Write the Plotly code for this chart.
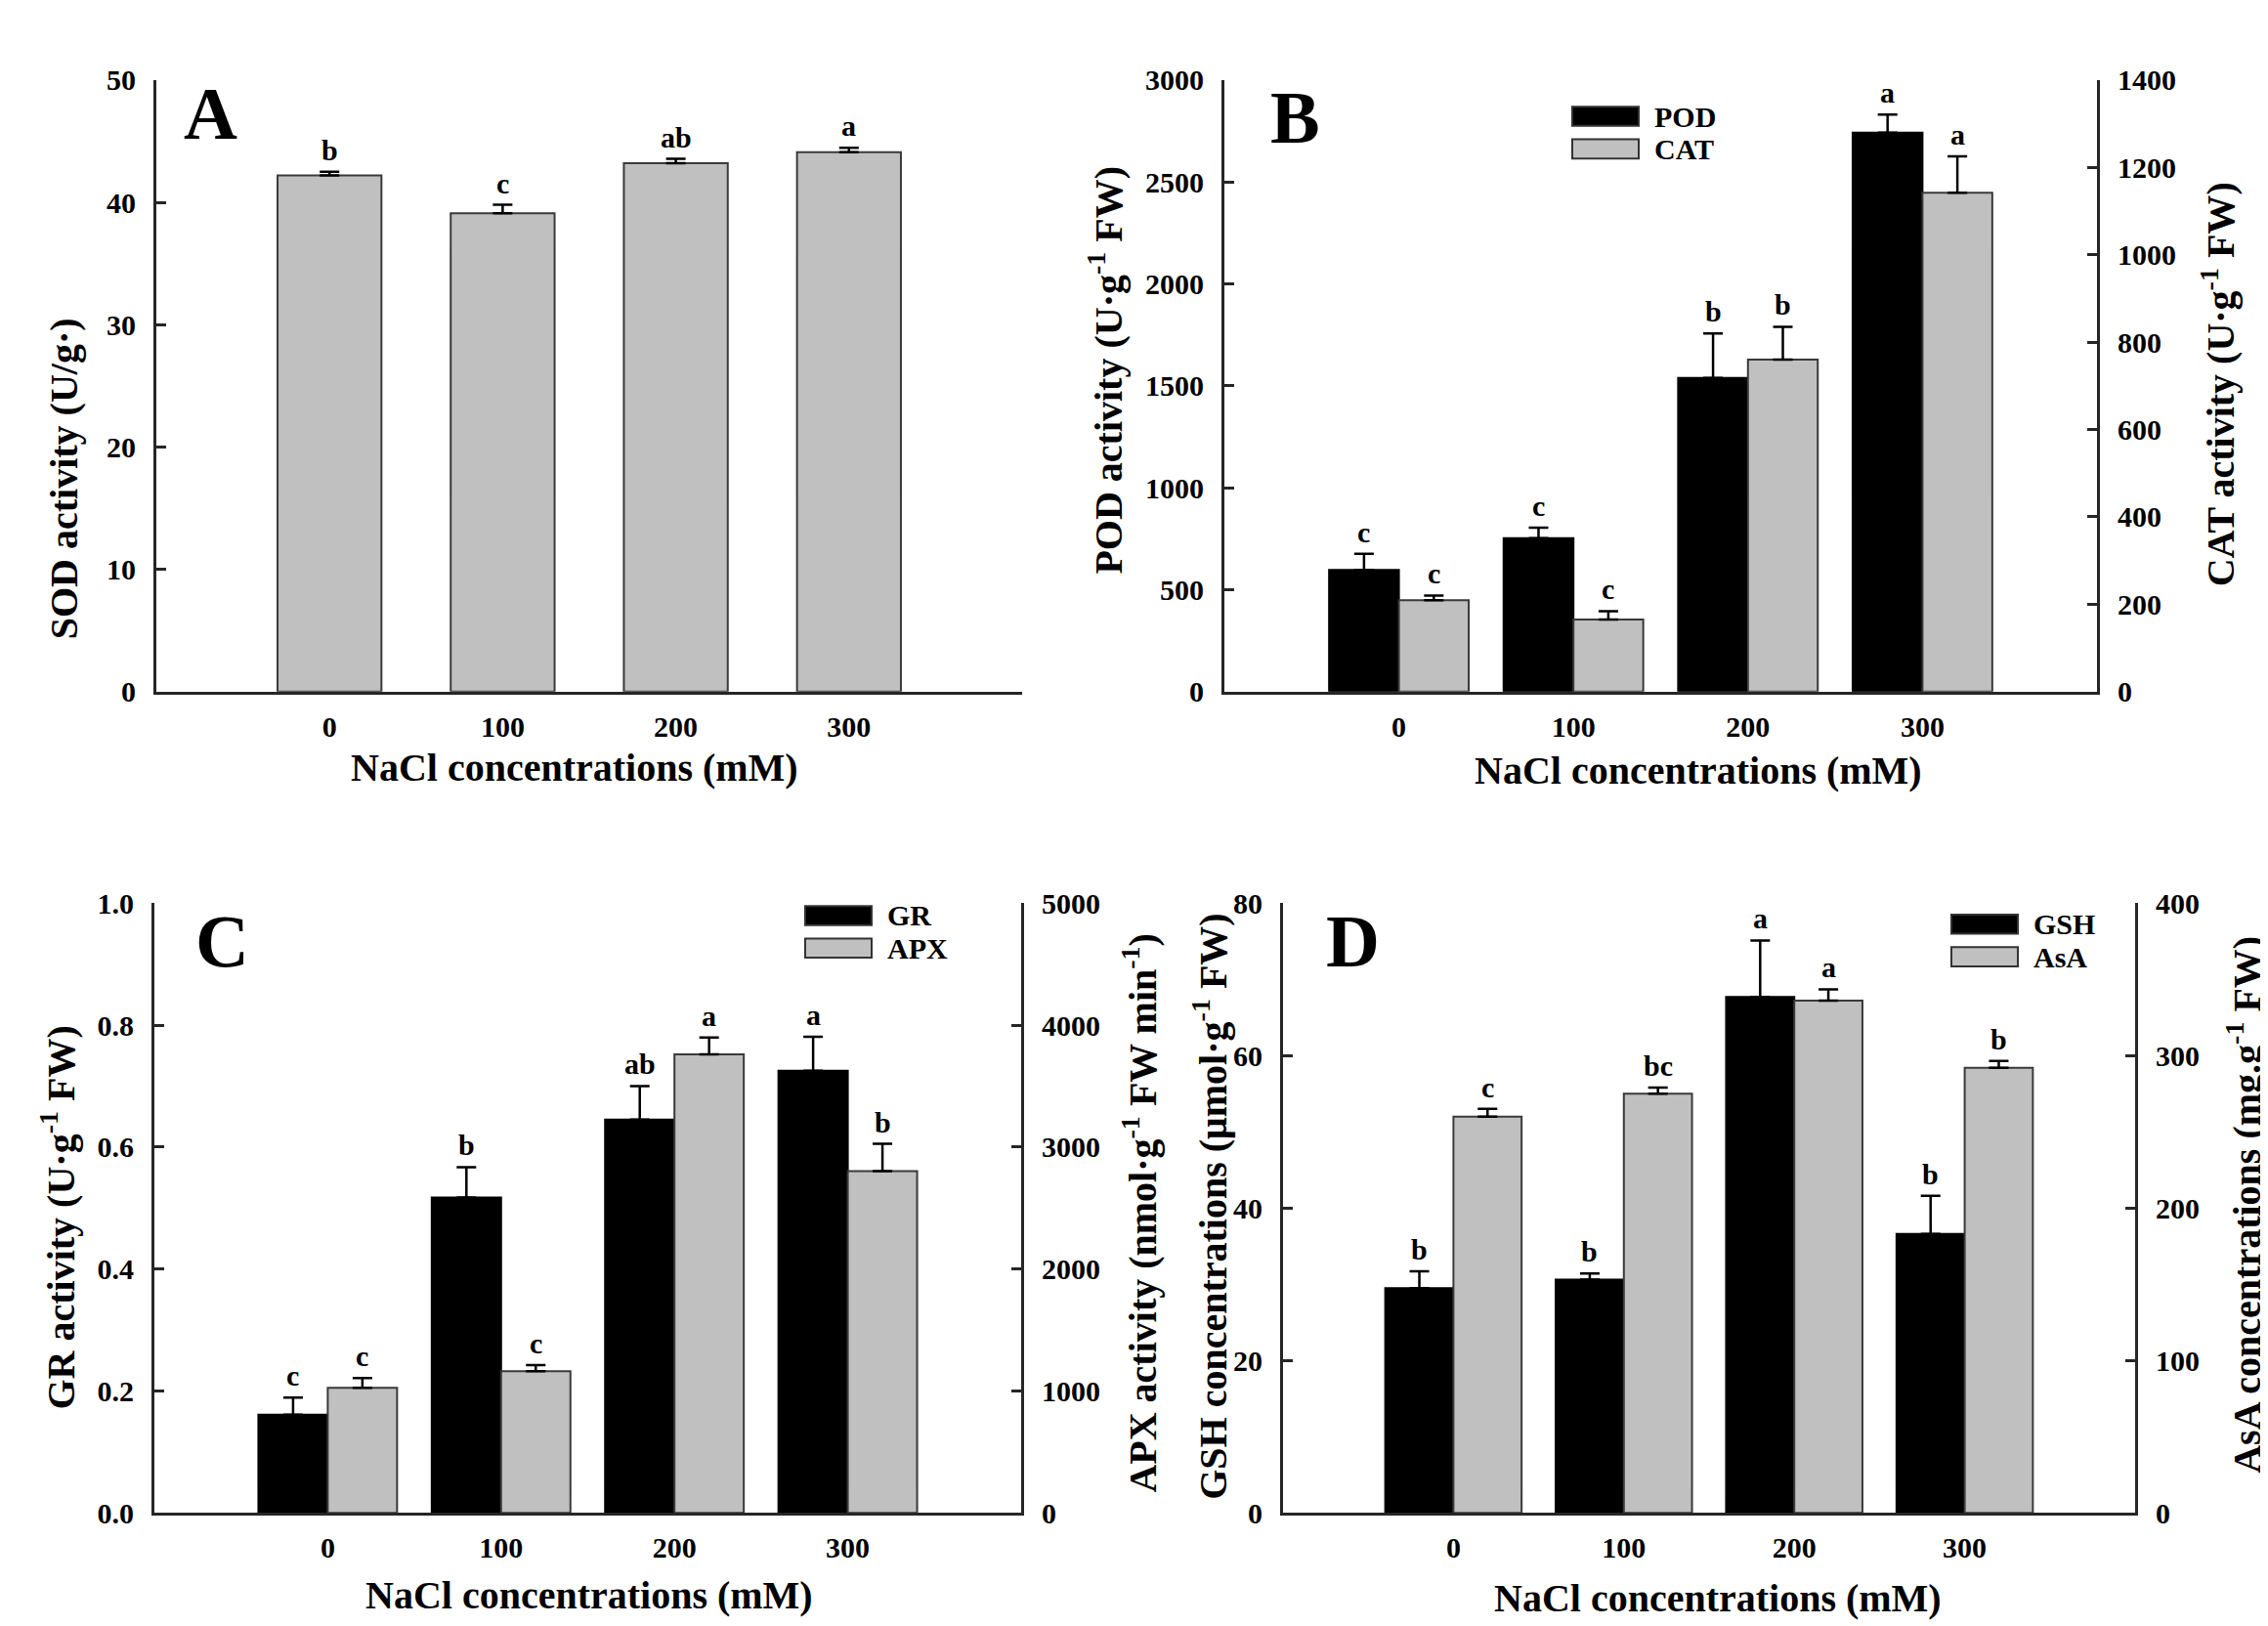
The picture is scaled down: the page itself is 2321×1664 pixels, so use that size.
import plotly.graph_objects as go

W, H = 2321, 1664
FONT = "Liberation Serif"
AX = "#262626"
GRAY = "#c0c0c0"

# NaCl treatments
nacl = ["0", "100", "200", "300"]

# A: SOD
sod = [42.2, 39.1, 43.2, 44.1]
sod_err = [0.3, 0.7, 0.35, 0.35]
sod_sig = ["b", "c", "ab", "a"]

# B: POD / CAT
pod = [597, 752, 1539, 2742]
pod_err = [79, 52, 217, 88]
pod_sig = ["c", "c", "b", "a"]
cat = [209, 165, 760, 1142]
cat_err = [11, 19, 75, 83]
cat_sig = ["c", "c", "b", "a"]

# C: GR / APX
gr = [0.161, 0.517, 0.645, 0.725]
gr_err = [0.028, 0.050, 0.055, 0.056]
gr_sig = ["c", "b", "ab", "a"]
apx = [1026, 1162, 3759, 2803]
apx_err = [79, 50, 140, 223]
apx_sig = ["c", "c", "a", "b"]

# D: GSH / AsA
gsh = [29.5, 30.6, 67.7, 36.6]
gsh_err = [2.2, 0.8, 7.4, 5.0]
gsh_sig = ["b", "b", "a", "b"]
asa = [260, 275, 336, 292]
asa_err = [5, 4, 7.5, 4.4]
asa_sig = ["c", "bc", "a", "b"]


def px(x):
    return x / W


def py(y):
    return 1 - y / H


xpos = list(range(len(nacl)))
fig = go.Figure()


def add_bars(vals, errs, sig, xa, ya, color, width, offset, edge):
    fig.add_trace(go.Bar(
        x=xpos, y=vals, xaxis=xa, yaxis=ya, width=width, offset=offset,
        marker=dict(color=color, line=dict(color=edge, width=2)),
        error_y=dict(type="data", array=errs, arrayminus=[0] * len(errs),
                     symmetric=False, color="black", thickness=2.5, width=10),
        showlegend=False,
    ))
    for i, (v, e, s) in enumerate(zip(vals, errs, sig)):
        fig.add_annotation(
            x=i + offset + width / 2, y=v + e, xref=xa, yref=ya, text=s,
            showarrow=False, yanchor="bottom", yshift=4,
            font=dict(family=FONT, size=30, color="black", weight="bold"),
        )


add_bars(sod, sod_err, sod_sig, "x", "y", GRAY, 0.6, -0.3, "#3a3a3a")
add_bars(pod, pod_err, pod_sig, "x2", "y2", "black", 0.4, -0.4, "black")
add_bars(cat, cat_err, cat_sig, "x2", "y3", GRAY, 0.4, 0.0, "#3a3a3a")
add_bars(gr, gr_err, gr_sig, "x3", "y4", "black", 0.4, -0.4, "black")
add_bars(apx, apx_err, apx_sig, "x3", "y5", GRAY, 0.4, 0.0, "#3a3a3a")
add_bars(gsh, gsh_err, gsh_sig, "x4", "y6", "black", 0.4, -0.4, "black")
add_bars(asa, asa_err, asa_sig, "x4", "y7", GRAY, 0.4, 0.0, "#3a3a3a")

tickfont = dict(family=FONT, size=30, color="black", weight="bold")


def xax(x0, x1, anchor):
    return dict(domain=[px(x0), px(x1)], anchor=anchor, range=[-1, 4],
                tickvals=xpos, ticktext=nacl, ticks="", showline=True,
                linecolor=AX, linewidth=3, showgrid=False, zeroline=False,
                tickfont=tickfont, ticklabelstandoff=7)


def yax(y0, y1, rng, dtick, anchor, side="left", overlaying=None, fmt=None):
    d = dict(range=rng, dtick=dtick, tick0=0, anchor=anchor, side=side,
             showline=True, linecolor=AX, linewidth=3, ticks="inside",
             ticklen=10, tickwidth=3, tickcolor=AX, showgrid=False,
             zeroline=False, tickfont=tickfont, ticklabelstandoff=12)
    if overlaying:
        d["overlaying"] = overlaying
    else:
        d["domain"] = [py(y1), py(y0)]
    if fmt:
        d["tickformat"] = fmt
    return d


top1, bot1 = 58, 697
top2, bot2 = 918, 1555

fig.update_layout(
    width=W, height=H, margin=dict(l=0, r=0, t=0, b=0),
    paper_bgcolor="white", plot_bgcolor="rgba(0,0,0,0)",
    font=dict(family=FONT, color="black", weight="bold"),
    showlegend=False,
    xaxis=xax(152, 1038, "y"),
    yaxis=yax(top1, bot1, [0, 50], 10, "x"),
    xaxis2=xax(1245, 2138, "y2"),
    yaxis2=yax(top1, bot1, [0, 3000], 500, "x2"),
    yaxis3=yax(top1, bot1, [0, 1400], 200, "x2", "right", "y2"),
    xaxis3=xax(150, 1037, "y4"),
    yaxis4=yax(top2, bot2, [0, 1.0], 0.2, "x3", fmt=".1f"),
    yaxis5=yax(top2, bot2, [0, 5000], 1000, "x3", "right", "y4"),
    xaxis4=xax(1305, 2177, "y6"),
    yaxis6=yax(top2, bot2, [0, 80], 20, "x4"),
    yaxis7=yax(top2, bot2, [0, 400], 100, "x4", "right", "y6"),
)

titlefont = dict(family=FONT, size=40, color="black", weight="bold")


def text(x, y, s, angle=0, font=titlefont, xanchor="center"):
    fig.add_annotation(x=px(x), y=py(y), xref="paper", yref="paper", text=s,
                       textangle=angle, showarrow=False, font=font,
                       xanchor=xanchor, yanchor="middle")


# axis titles
xt = "NaCl concentrations (mM)"
text(580, 776, xt)
text(1730, 779, xt)
text(595, 1641, xt)
text(1750, 1644, xt)
text(57, 475, "SOD activity (U/g·)", -90)
text(1124, 361, "POD activity (U·g<sup>-1</sup> FW)", -90)
text(2262, 376, "CAT activity (U·g<sup>-1</sup> FW)", -90)
text(52, 1247, "GR activity (U·g<sup>-1</sup> FW)", -90)
text(1159, 1242, "APX activity (nmol·g<sup>-1</sup> FW min<sup>-1</sup>)", -90)
text(1231, 1235, "GSH concentrations (μmol·g<sup>-1</sup> FW)", -90)
text(2289, 1233, "AsA concentrations (mg.g<sup>-1</sup> FW)", -90)

# panel letters
big = dict(family=FONT, size=76, color="black", weight="bold")
text(207, 93, "A", font=big)
text(1317, 97, "B", font=big)
text(220, 958, "C", font=big)
text(1376, 958, "D", font=big)

# legends
legfont = dict(family=FONT, size=30, color="black", weight="bold")
legends = [
    (1601, 86, ["POD", "CAT"]),
    (816, 921, ["GR", "APX"]),
    (1989, 930, ["GSH", "AsA"]),
]
for lx, ly, names in legends:
    for k, (name, col) in enumerate(zip(names, ["black", GRAY])):
        y0 = ly + k * 34
        fig.add_shape(type="rect", xref="paper", yref="paper",
                      x0=px(lx), x1=px(lx + 68), y0=py(y0 + 20), y1=py(y0),
                      fillcolor=col, line=dict(color="#333333", width=2))
        text(lx + 82, y0 + 10, name, font=legfont, xanchor="left")

fig.write_html("out.html")
